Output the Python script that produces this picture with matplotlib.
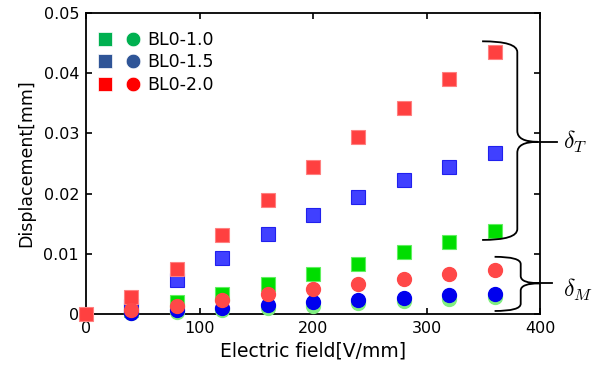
import matplotlib
matplotlib.use("Agg")
import matplotlib.pyplot as plt
from matplotlib.path import Path
from matplotlib.patches import PathPatch
from matplotlib.lines import Line2D
from matplotlib.legend_handler import HandlerTuple

plt.rcParams['font.family'] = ['DejaVu Sans']
plt.rcParams['mathtext.fontset'] = 'cm'

field = [0, 40, 80, 120, 160, 200, 240, 280, 320, 360]
sq_10 = [0, 0.0007, 0.0020, 0.0033, 0.0050, 0.0067, 0.0083, 0.0103, 0.0120, 0.0138]
sq_15 = [0, 0.0014, 0.0057, 0.0093, 0.0133, 0.0165, 0.0195, 0.0222, 0.0244, 0.0268]
sq_20 = [0, 0.0028, 0.0074, 0.0131, 0.0189, 0.0244, 0.0294, 0.0343, 0.0391, 0.0435]
ci_10 = [0, 0.0001, 0.0004, 0.0006, 0.0010, 0.0014, 0.0018, 0.0021, 0.0025, 0.0028]
ci_15 = [0, 0.0002, 0.0007, 0.0010, 0.0015, 0.0020, 0.0024, 0.0027, 0.0031, 0.0034]
ci_20 = [0, 0.0007, 0.0013, 0.0023, 0.0033, 0.0042, 0.0050, 0.0058, 0.0066, 0.0073]
labels = ['BL0-1.0', 'BL0-1.5', 'BL0-2.0']

fig = plt.figure(figsize=(6.08, 3.74), dpi=100)
ax = fig.add_axes([86/608, 60/374, 454/608, 301/374])

ms_s, ms_c = 9.5, 10
ax.plot(field[1:], sq_10[1:], 's', ms=ms_s, color='#00dd00', mec='#60f060', mew=0.8, clip_on=False, zorder=3)
ax.plot(field[1:], sq_15[1:], 's', ms=ms_s, color='#4040ff', mec='#2020ee', mew=0.8, clip_on=False, zorder=3)
ax.plot(field, sq_20, 's', ms=ms_s, color='#ff4040', mec='#ff8080', mew=0.8, clip_on=False, zorder=3)
ax.plot(field[1:], ci_10[1:], 'o', ms=ms_c, color='#80ee80', mec='#80ee80', clip_on=False, zorder=4)
ax.plot(field[1:], ci_15[1:], 'o', ms=ms_c, color='#0000ee', mec='#0000ee', clip_on=False, zorder=4)
ax.plot(field[1:], ci_20[1:], 'o', ms=ms_c, color='#ff4848', mec='#ff4848', clip_on=False, zorder=4)

ax.set_xlim(0, 400)
ax.set_ylim(0, 0.05)
ax.set_xticks([0, 100, 200, 300, 400])
ax.set_xticklabels(['0', '100', '200', '300', '400'])
ax.set_yticks([0, 0.01, 0.02, 0.03, 0.04, 0.05])
ax.set_yticklabels(['0', '0.01', '0.02', '0.03', '0.04', '0.05'])
ax.tick_params(direction='in', length=4, width=1.2, top=True, right=True, labelsize=11.5, pad=5)
for s in ax.spines.values():
    s.set_linewidth(1.3)
ax.set_xlabel('Electric field[V/mm]', fontsize=13.5, labelpad=4)
ax.set_ylabel('Displacement[mm]', fontsize=12.5, labelpad=6)

# legend
leg_cols = ['#00b050', '#2f5597', '#ff0000']
handles = []
for c in leg_cols:
    h1 = Line2D([], [], marker='s', ls='', ms=10, color=c, mec='#ffffff', mew=0.5)
    h2 = Line2D([], [], marker='o', ls='', ms=10.5, color=c, mec='#ffffff', mew=0.5)
    handles.append((h1, h2))
ax.legend(handles, labels, handler_map={tuple: HandlerTuple(ndivide=None, pad=0.9)},
          loc='upper left', bbox_to_anchor=(0.005, 0.975), frameon=False, fontsize=12.5,
          handlelength=2.3, handletextpad=0.5, labelspacing=0.25, borderaxespad=0.2)

# braces
def brace(xl, xv, xt, xe, yt, ym, yb, ry):
    verts = [(xl, yt), (xv, yt), (xv, yt - ry),
             (xv, ym + ry), (xv, ym), (xt, ym),
             (xv, ym), (xv, ym - ry),
             (xv, yb + ry), (xv, yb), (xl, yb)]
    codes = [Path.MOVETO, Path.CURVE3, Path.CURVE3,
             Path.LINETO, Path.CURVE3, Path.CURVE3,
             Path.CURVE3, Path.CURVE3,
             Path.LINETO, Path.CURVE3, Path.CURVE3]
    ax.add_patch(PathPatch(Path(verts, codes), fill=False, lw=1.3, ec='black', clip_on=False, zorder=5))
    ax.plot([xt, xe], [ym, ym], color='black', lw=1.3, clip_on=False, zorder=5)

brace(349, 380, 398, 415, 0.0453, 0.0286, 0.0123, 0.0018)
brace(360, 383, 400, 410.5, 0.0095, 0.0051, 0.0005, 0.0012)
ax.text(420, 0.0286, r'$\delta_T$', fontsize=17, va='center', ha='left', clip_on=False)
ax.text(420, 0.0040, r'$\delta_M$', fontsize=17, va='center', ha='left', clip_on=False)

fig.savefig('out.png', dpi=100)
